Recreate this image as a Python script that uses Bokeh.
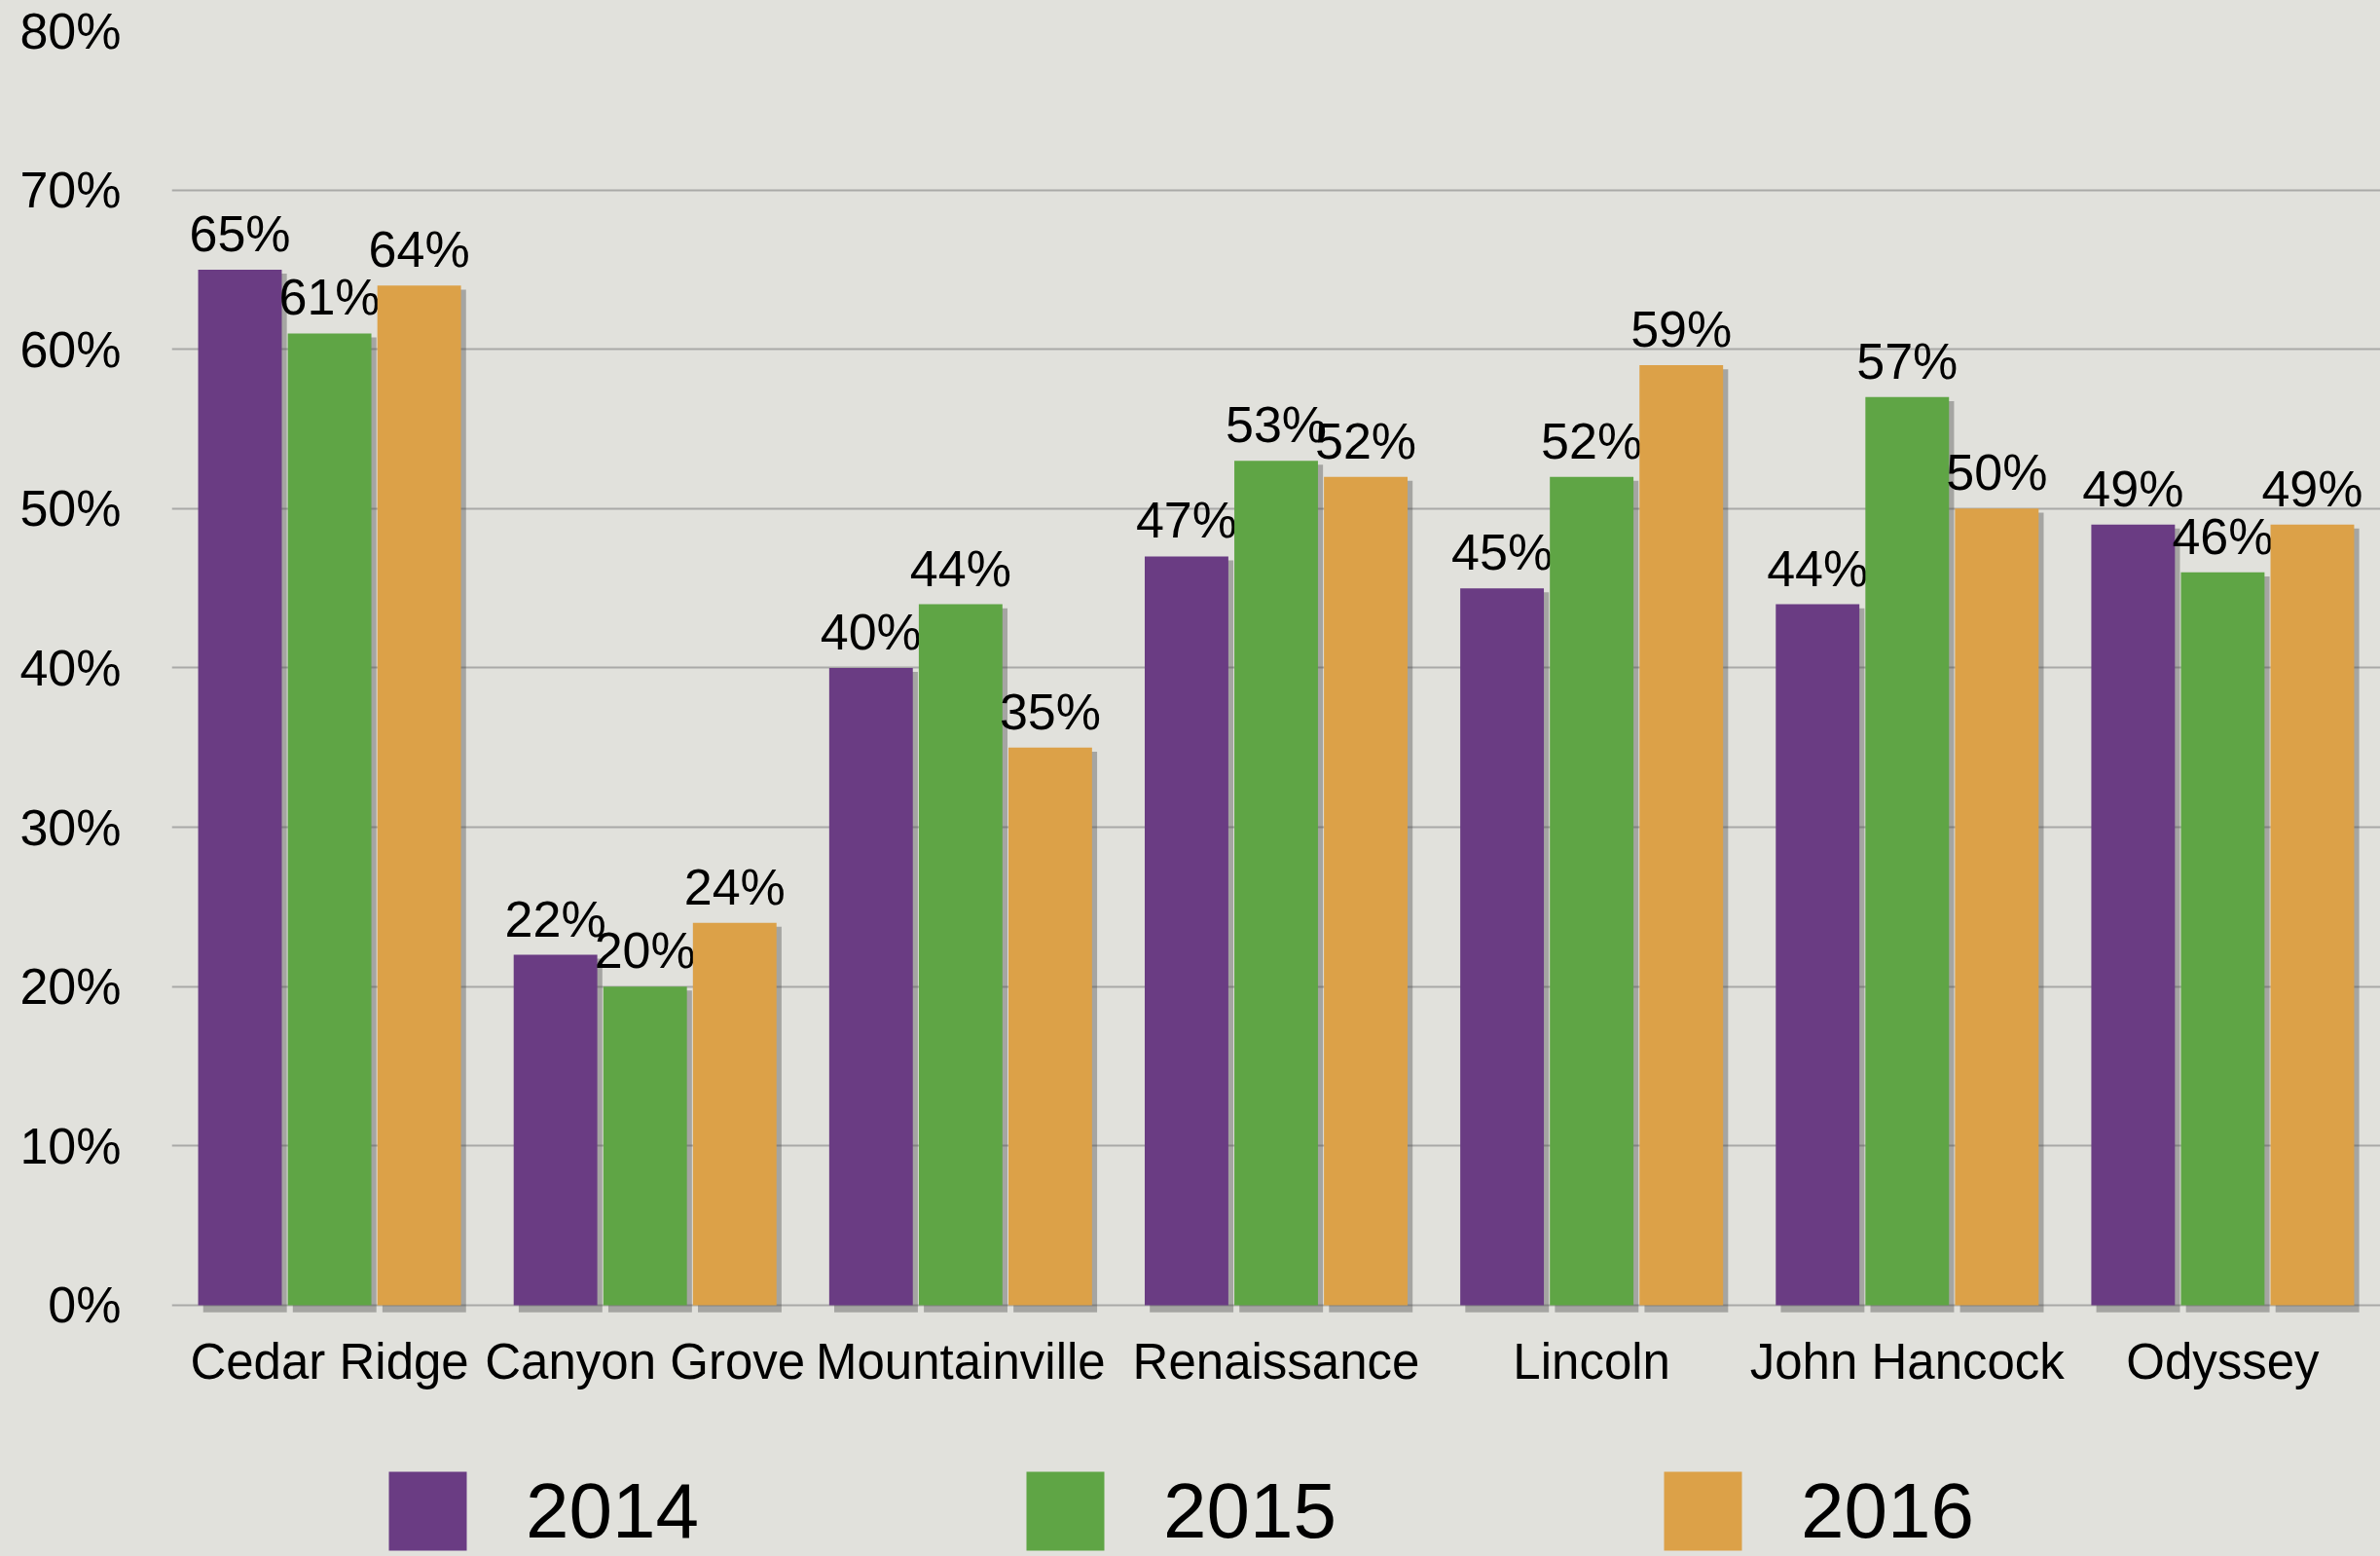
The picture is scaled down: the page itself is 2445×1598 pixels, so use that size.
from bokeh.plotting import figure
from bokeh.models import (ColumnDataSource, Range1d, FixedTicker,
                          PrintfTickFormatter, Legend, LegendItem)
from bokeh.core.properties import value
from bokeh.embed import file_html
from bokeh.resources import INLINE

schools = ["Cedar Ridge", "Canyon Grove", "Mountainville", "Renaissance",
           "Lincoln", "John Hancock", "Odyssey"]
years = ["2014", "2015", "2016"]
v2014 = [65, 22, 40, 47, 45, 44, 49]
v2015 = [61, 20, 44, 53, 52, 57, 46]
v2016 = [64, 24, 35, 52, 59, 50, 49]
y_ticks = [0, 10, 20, 30, 40, 50, 60, 70, 80]

colors = ["#6a3c83", "#5fa545", "#dca148"]
BG = "#e1e1dc"
FONT = "Liberation Sans"

series = [v2014, v2015, v2016]
offsets = [-0.284, 0.0, 0.284]
bar_w = 0.265
centers = [i + 0.5 for i in range(len(schools))]

W, H = 2445, 1598
p = figure(x_range=Range1d(0, len(schools)), y_range=Range1d(-15.77, 80),
           width=W, height=H, output_backend="svg", toolbar_location=None,
           min_border_left=176, min_border_right=0, min_border_top=31,
           min_border_bottom=0)
p.background_fill_color = BG
p.border_fill_color = BG
p.outline_line_color = None

p.xgrid.grid_line_color = None
p.ygrid.grid_line_color = "#a9a9a7"
p.ygrid.grid_line_width = 2
p.ygrid.ticker = FixedTicker(ticks=y_ticks)
p.yaxis.ticker = FixedTicker(ticks=y_ticks)
p.yaxis.formatter = PrintfTickFormatter(format="%d%%")

p.xaxis.ticker = FixedTicker(ticks=centers)
p.xaxis.major_label_overrides = {c: s for c, s in zip(centers, schools)}
p.xaxis.fixed_location = 0

for ax in (p.xaxis, p.yaxis):
    ax.axis_line_color = None
    ax.major_tick_line_color = None
    ax.minor_tick_line_color = None
    ax.major_label_text_font = FONT
    ax.major_label_text_color = "#000000"
p.yaxis.major_label_text_font_size = "52px"
p.xaxis.major_label_text_font_size = "51px"
p.yaxis.major_label_standoff = 46
p.xaxis.major_label_standoff = 24

renderers = []
for vals, off, col in zip(series, offsets, colors):
    xs = [c + off for c in centers]
    src = ColumnDataSource(dict(
        x=xs, xs=[x + 0.016 for x in xs], v=vals,
        shadow_top=[v - 0.25 for v in vals],
        lab=[f"{v}%" for v in vals]))
    p.vbar(x="xs", top="shadow_top", bottom=-0.45, width=bar_w, source=src,
           fill_color="#4a4a4a", fill_alpha=0.4, line_color=None)
    r = p.vbar(x="x", top="v", bottom=0, width=bar_w, source=src,
               fill_color=col, line_color=None)
    renderers.append(r)
    p.text(x="x", y="v", text="lab", source=src,
           y_offset=-37, text_align="center", text_baseline="alphabetic",
           text_font=value(FONT), text_font_size="52px", text_color="#000000")

legend = Legend(items=[LegendItem(label=y, renderers=[r]) for y, r in zip(years, renderers)],
                orientation="horizontal", location=(213, -4),
                glyph_width=100, glyph_height=101, label_standoff=51, spacing=326,
                padding=0, margin=0, border_line_color=None,
                background_fill_alpha=0, label_text_font=FONT,
                label_text_font_size="80px", label_text_color="#000000")
p.add_layout(legend, "center")

html = file_html(p, INLINE)
html = html.replace("<head>", "<head><style>html,body{background:%s;}</style>" % BG, 1)
open("out.html", "w").write(html)
